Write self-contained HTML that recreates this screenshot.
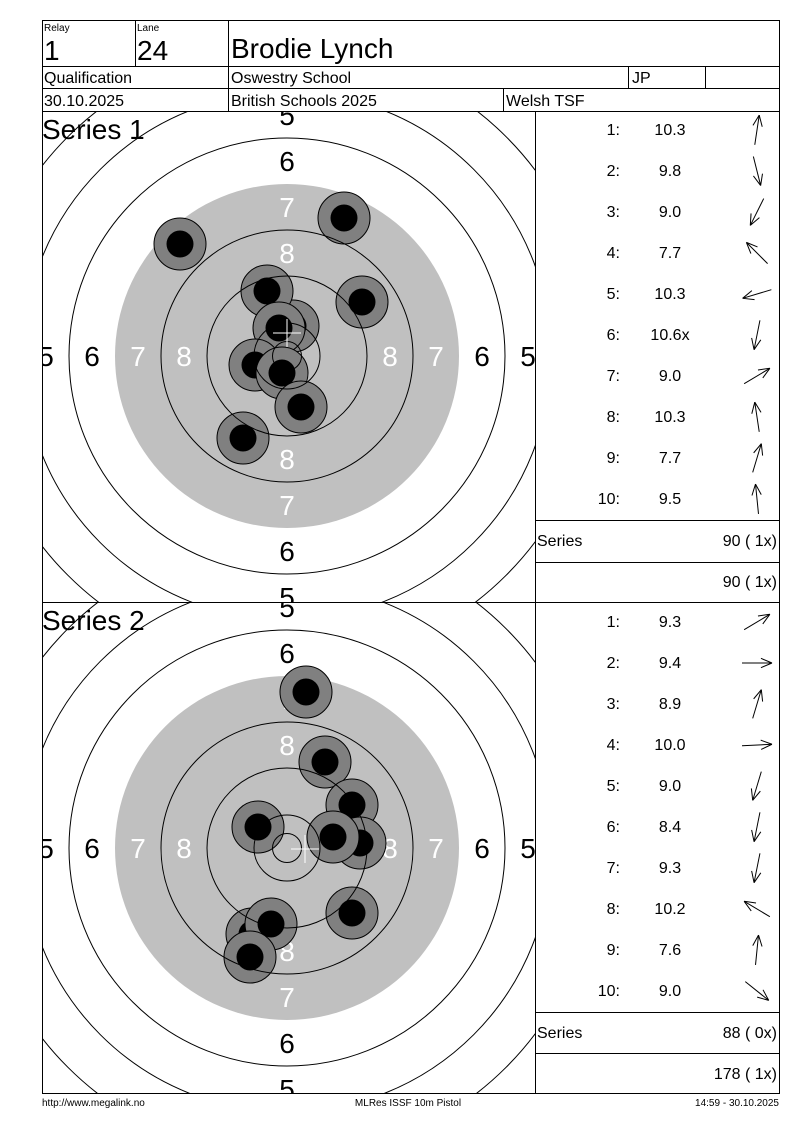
<!DOCTYPE html>
<html><head><meta charset="utf-8"><style>
html,body{margin:0;background:#fff;width:800px;height:1130px;overflow:hidden;font-family:"Liberation Sans",sans-serif}
svg{position:absolute;left:0;top:0;display:block}
</style></head><body>
<svg id="s" width="800" height="1130" xmlns="http://www.w3.org/2000/svg" font-family="Liberation Sans, sans-serif">
<defs>
<clipPath id="c1"><rect x="42" y="111" width="493" height="491"/></clipPath>
<clipPath id="c2"><rect x="42" y="602" width="493" height="491"/></clipPath>
</defs>
<g id="g"></g>
</svg>
<script>
const g=document.getElementById('g');let h='';
function L(x1,y1,x2,y2,w){h+=`<line x1="${x1}" y1="${y1}" x2="${x2}" y2="${y2}" stroke="#000" stroke-width="${w||1}"/>`;}
function T(x,y,t,s,a,c){h+=`<text x="${x}" y="${y}" font-size="${s}" text-anchor="${a||'start'}" fill="${c||'#000'}">${t}</text>`;}
function target(cx,cy,clip,shots,mx,my){
 h+=`<g clip-path="url(#${clip})">`;
 [448,402,356,310,264,218].forEach(r=>h+=`<circle cx="${cx}" cy="${cy}" r="${r}" fill="none" stroke="#000"/>`);
 h+=`<circle cx="${cx}" cy="${cy}" r="172" fill="#c0c0c0"/>`;
 const lab=[[5,241,'#000'],[6,195,'#000'],[7,149,'#fff'],[8,103,'#fff']];
 lab.forEach(([n,d,c])=>{
  T(cx,cy-d+10,n,28,'middle',c);T(cx,cy+d+10,n,28,'middle',c);
  T(cx-d,cy+10,n,28,'middle',c);T(cx+d,cy+10,n,28,'middle',c);
 });
 shots.forEach(([x,y])=>{h+=`<circle cx="${x}" cy="${y}" r="26" fill="#808080" stroke="#000"/><circle cx="${x}" cy="${y}" r="13.5" fill="#000"/>`;});
 [126,80,33,14.5].forEach(r=>h+=`<circle cx="${cx}" cy="${cy}" r="${r}" fill="none" stroke="#000"/>`);
 h+=`<line x1="${mx-14}" y1="${my}" x2="${mx+14}" y2="${my}" stroke="#fff"/><line x1="${mx}" y1="${my-14}" x2="${mx}" y2="${my+14}" stroke="#fff"/>`;
 h+='</g>';
}
target(287,356,'c1',[[180,244],[344,218],[362,302],[293,326],[267,291],[279,328],[255,365],[282,373],[301,407],[243,438]],287,333);
target(287,848,'c2',[[306,692],[325,762],[352,805],[258,827],[360,843],[333,837],[352,913],[252,934],[271,924],[250,957]],305,849);
h+=`<rect x="42.5" y="20.5" width="737" height="1073" fill="none" stroke="#000"/>`;
L(42,66.5,779,66.5);L(42,88.5,779,88.5);L(42,111.5,779,111.5);L(42,602.5,779,602.5);
L(135.5,20,135.5,66);L(228.5,20,228.5,111);L(628.5,66,628.5,88);L(705.5,66,705.5,88);L(503.5,88,503.5,111);
L(535.5,111,535.5,1093);
L(535,520.5,779,520.5);L(535,562.5,779,562.5);L(535,1012.5,779,1012.5);L(535,1053.5,779,1053.5);
T(44,31,'Relay',10);T(137,31,'Lane',10);T(44,60,'1',28);T(137,60,'24',28);T(231,58,'Brodie Lynch',28);
T(44,83,'Qualification',16);T(231,83,'Oswestry School',16);T(632,83,'JP',16);
T(44,106,'30.10.2025',16);T(231,106,'British Schools 2025',16);T(506,106,'Welsh TSF',16);
T(42,139,'Series 1',28);T(42,630,'Series 2',28);
function rows(y0,vals,dirs){
 vals.forEach((v,i)=>{const y=y0+i*41;T(620,y+5,(i+1)+':',16,'end');T(670,y+5,v,16,'middle');
  let [dx,dy]=dirs[i];const m=Math.hypot(dx,dy);dx/=m;dy/=m;const cx=757,cy=y,l=15;
  const x1=cx-dx*l,y1=cy-dy*l,x2=cx+dx*l,y2=cy+dy*l;L(x1,y1,x2,y2);
  const a=Math.atan2(dy,dx);[0.4,-0.4].forEach(o=>L(x2,y2,x2-12*Math.cos(a+o),y2-12*Math.sin(a+o)));
 });
}
rows(130,['10.3','9.8','9.0','7.7','10.3','10.6x','9.0','10.3','7.7','9.5'],[[0.15,-1],[0.25,1],[-0.5,1],[-1,-1],[-1,0.3],[-0.2,1],[1,-0.6],[-0.15,-1],[0.3,-1],[-0.1,-1]]);
rows(622,['9.3','9.4','8.9','10.0','9.0','8.4','9.3','10.2','7.6','9.0'],[[1,-0.6],[1,0],[0.3,-1],[1,-0.05],[-0.3,1],[-0.2,1],[-0.2,1],[-1,-0.6],[0.1,-1],[1,0.8]]);
T(537,546,'Series',16);T(777,546,'90 ( 1x)',16,'end');T(777,587,'90 ( 1x)',16,'end');
T(537,1038,'Series',16);T(777,1038,'88 ( 0x)',16,'end');T(777,1079,'178 ( 1x)',16,'end');
T(42,1106,'http://www.megalink.no',10);T(408,1106,'MLRes ISSF 10m Pistol',10,'middle');T(779,1106,'14:59 - 30.10.2025',10,'end');
g.innerHTML=h;
</script>
</body></html>
